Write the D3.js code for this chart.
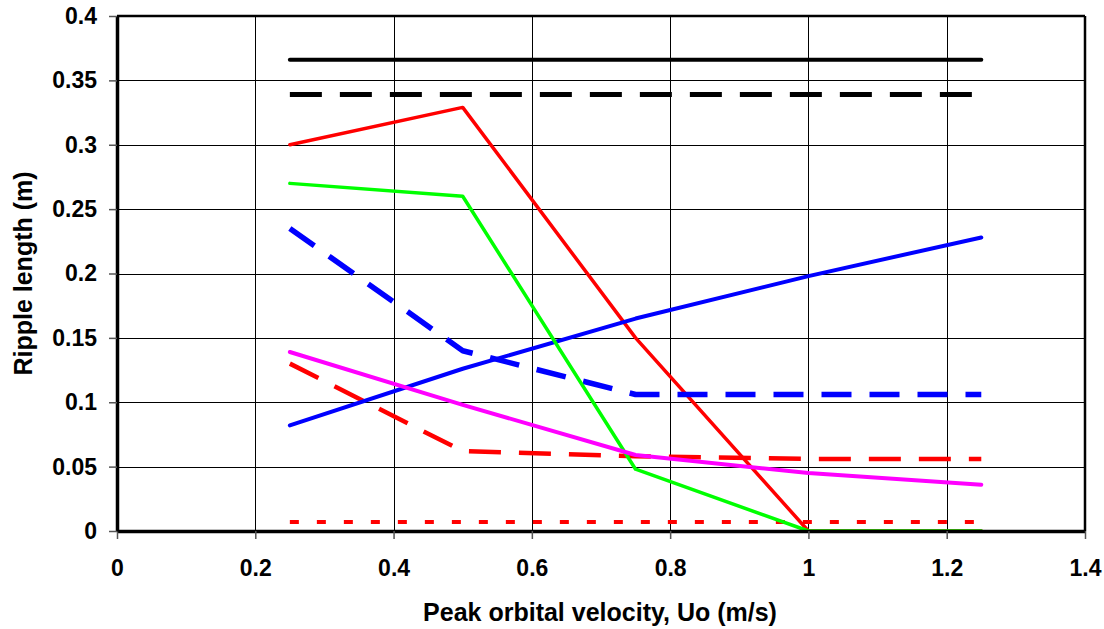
<!DOCTYPE html>
<html>
<head>
<meta charset="utf-8">
<script src="https://cdn.jsdelivr.net/npm/d3@7"></script>
<style>
  body { margin: 0; background: #fff; }
  svg { display: block; font-family: "Liberation Sans", Arial, sans-serif; }
</style>
</head>
<body>
<div id="chart"></div>
<script>
// x positions (peak orbital velocity, m/s)
var velocities = [0.25, 0.5, 0.75, 1.0, 1.25];

// ripple length series (m)
var blackSolid  = [0.366, 0.366, 0.366, 0.366, 0.366];
var blackDashed = [0.339, 0.339, 0.339, 0.339, 0.339];
var redSolid    = [0.300, 0.329, 0.150, 0.000, 0.000];
var redDashed   = [0.130, 0.062, 0.058, 0.056, 0.056];
var redDotted   = [0.007, 0.007, 0.007, 0.007, 0.007];
var blueSolid   = [0.082, 0.126, 0.165, 0.198, 0.228];
var blueDashed  = [0.235, 0.140, 0.106, 0.106, 0.106];
var greenSolid  = [0.270, 0.260, 0.048, 0.000, 0.000];
var magenta     = [0.139, 0.098, 0.059, 0.045, 0.036];

var xTicks = [0, 0.2, 0.4, 0.6, 0.8, 1, 1.2, 1.4];
var yTicks = [0, 0.05, 0.1, 0.15, 0.2, 0.25, 0.3, 0.35, 0.4];

var W = 1104, H = 629;
var margin = {top: 16, right: 19, bottom: 98, left: 117},
  width = W - margin.left - margin.right,
  height = H - margin.top - margin.bottom;

var svg = d3.select("#chart").append("svg")
  .attr("width", W).attr("height", H);

var g = svg.append("g")
  .attr("transform", "translate(" + margin.left + "," + margin.top + ")");

var x = d3.scaleLinear().domain([0, 1.4]).range([0, width]);
var y = d3.scaleLinear().domain([0, 0.4]).range([height, 0]);

var fmt = function (d) { return String(+d.toFixed(2)); };

// grid
g.append("g")
  .attr("transform", "translate(0," + height + ")")
  .call(d3.axisBottom(x).tickValues(xTicks).tickSize(-height).tickFormat(""))
  .call(function (s) {
    s.select(".domain").remove();
    s.selectAll("line").attr("stroke", "#000").attr("stroke-width", 1).attr("shape-rendering", "crispEdges");
  });
g.append("g")
  .call(d3.axisLeft(y).tickValues(yTicks).tickSize(-width).tickFormat(""))
  .call(function (s) {
    s.select(".domain").remove();
    s.selectAll("line").attr("stroke", "#000").attr("stroke-width", 1).attr("shape-rendering", "crispEdges");
  });

// frame: top/right thinner
g.append("line").attr("x1", 0).attr("x2", width).attr("y1", 0).attr("y2", 0)
  .attr("stroke", "#000").attr("stroke-width", 2.5);
g.append("line").attr("x1", width).attr("x2", width).attr("y1", 0).attr("y2", height)
  .attr("stroke", "#000").attr("stroke-width", 2.5);

// series
var series = [
  {vals: blackSolid,  color: "#000000", w: 4,   dash: null},
  {vals: blackDashed, color: "#000000", w: 5,   dash: "32,18"},
  {vals: redDotted,   color: "#ff0000", w: 4,   dash: "9,18"},
  {vals: redSolid,    color: "#ff0000", w: 3.5, dash: null},
  {vals: redDashed,   color: "#ff0000", w: 4.5, dash: "32,18"},
  {vals: blueSolid,   color: "#0000ff", w: 4,   dash: null},
  {vals: blueDashed,  color: "#0000ff", w: 5.5, dash: "30,18"},
  {vals: greenSolid,  color: "#00ff00", w: 3.5, dash: null},
  {vals: magenta,     color: "#ff00ff", w: 4,   dash: null}
];

var line = d3.line()
  .x(function (d, i) { return x(velocities[i]); })
  .y(function (d) { return y(d); });

series.forEach(function (s) {
  g.append("path")
    .datum(s.vals)
    .attr("d", line)
    .attr("fill", "none")
    .attr("stroke", s.color)
    .attr("stroke-width", s.w)
    .attr("stroke-linejoin", "round")
    .attr("stroke-linecap", s.dash ? "butt" : "round")
    .attr("stroke-dasharray", s.dash);
});

// axes with ticks and labels
var xAxis = g.append("g")
  .attr("transform", "translate(0," + height + ")")
  .call(d3.axisBottom(x).tickValues(xTicks).tickSizeInner(8).tickSizeOuter(0).tickPadding(21).tickFormat(fmt));
xAxis.select(".domain").attr("stroke-width", 3.5);
xAxis.selectAll(".tick line").attr("stroke", "#555").attr("stroke-width", 1.5);
xAxis.selectAll("text").attr("font-size", "23px").attr("font-weight", "bold").attr("fill", "#000");

var yAxis = g.append("g")
  .call(d3.axisLeft(y).tickValues(yTicks).tickSizeInner(8).tickSizeOuter(0).tickPadding(12).tickFormat(fmt));
yAxis.select(".domain").attr("stroke-width", 3.5);
yAxis.selectAll(".tick line").attr("stroke", "#555").attr("stroke-width", 1.5);
yAxis.selectAll("text").attr("font-size", "23px").attr("font-weight", "bold").attr("fill", "#000");

// axis titles
svg.append("text")
  .attr("x", margin.left + width / 2 - 1)
  .attr("y", 621)
  .attr("text-anchor", "middle")
  .attr("font-size", "25px")
  .attr("font-weight", "bold")
  .text("Peak orbital velocity, Uo (m/s)");

svg.append("text")
  .attr("transform", "translate(32," + (margin.top + height / 2) + ") rotate(-90)")
  .attr("text-anchor", "middle")
  .attr("font-size", "25px")
  .attr("font-weight", "bold")
  .text("Ripple length (m)");
</script>
</body>
</html>
